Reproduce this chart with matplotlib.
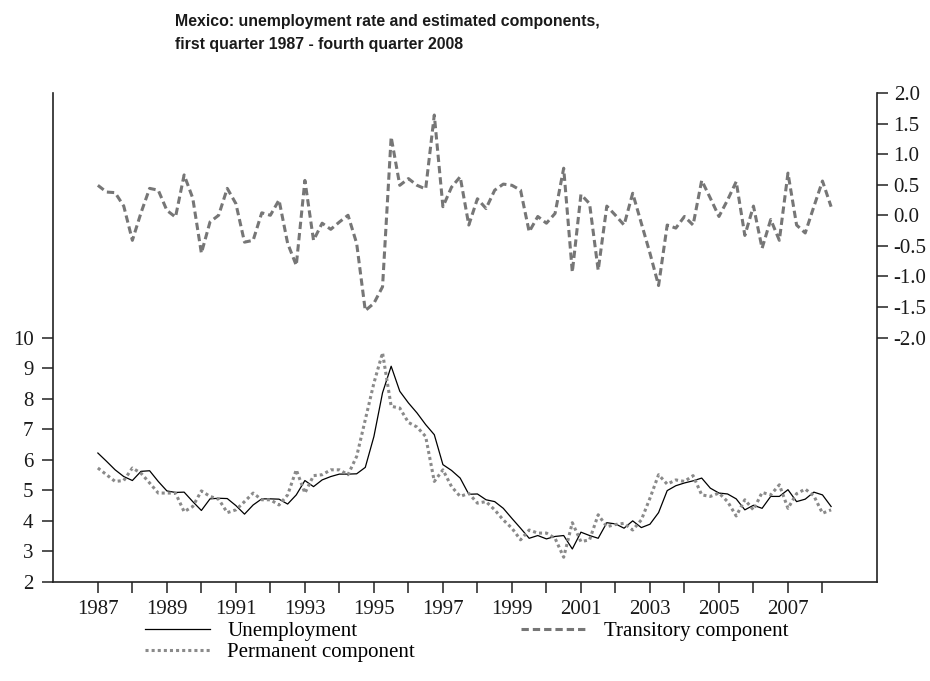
import numpy as np
import matplotlib
matplotlib.use("Agg")
import matplotlib.pyplot as plt
from matplotlib.ticker import FixedLocator, FormatStrFormatter

plt.rcParams['axes.unicode_minus'] = False

# Quarterly observations, 1987Q1 onwards
start_year = 1987
unemployment = [
    6.22, 5.95, 5.67, 5.45, 5.32, 5.62, 5.64, 5.29, 4.98, 4.93,
    4.94, 4.63, 4.34, 4.72, 4.74, 4.73, 4.50, 4.22, 4.52, 4.72,
    4.72, 4.71, 4.55, 4.85, 5.32, 5.12, 5.34, 5.45, 5.53, 5.53,
    5.54, 5.75, 6.76, 8.19, 9.06, 8.24, 7.86, 7.53, 7.15, 6.82,
    5.84, 5.65, 5.40, 4.87, 4.88, 4.69, 4.63, 4.41, 4.08, 3.76,
    3.43, 3.52, 3.41, 3.49, 3.52, 3.08, 3.63, 3.52, 3.43, 3.94,
    3.90, 3.76, 4.00, 3.78, 3.89, 4.27, 4.99, 5.15, 5.24, 5.31,
    5.40, 5.07, 4.91, 4.88, 4.72, 4.36, 4.51, 4.41, 4.80, 4.80,
    5.02, 4.63, 4.71, 4.94, 4.85, 4.47,
]
permanent = [
    5.73, 5.51, 5.29, 5.32, 5.73, 5.56, 5.24, 4.91, 4.91, 4.91,
    4.30, 4.47, 4.98, 4.80, 4.71, 4.27, 4.36, 4.63, 4.91, 4.69,
    4.69, 4.52, 4.85, 5.67, 4.91, 5.48, 5.51, 5.67, 5.67, 5.51,
    6.11, 7.31, 8.51, 9.50, 7.75, 7.69, 7.22, 7.07, 6.76, 5.29,
    5.67, 5.12, 4.80, 4.90, 4.58, 4.63, 4.36, 4.03, 3.76, 3.38,
    3.70, 3.60, 3.60, 3.43, 2.81, 3.94, 3.32, 3.38, 4.20, 3.81,
    3.88, 3.92, 3.70, 4.03, 4.74, 5.51, 5.20, 5.34, 5.29, 5.48,
    4.85, 4.80, 4.91, 4.63, 4.16, 4.69, 4.36, 4.93, 4.85, 5.18,
    4.41, 4.89, 5.04, 4.82, 4.25, 4.36,
]
transitory = [
    0.49, 0.38, 0.37, 0.15, -0.41, 0.04, 0.44, 0.41, 0.08, -0.03,
    0.66, 0.28, -0.62, -0.11, 0.00, 0.44, 0.19, -0.44, -0.41, 0.04,
    0.00, 0.25, -0.46, -0.82, 0.57, -0.41, -0.13, -0.23, -0.11, 0.00,
    -0.46, -1.56, -1.44, -1.17, 1.28, 0.49, 0.60, 0.49, 0.43, 1.64,
    0.14, 0.46, 0.63, -0.16, 0.27, 0.11, 0.41, 0.51, 0.49, 0.41,
    -0.27, -0.02, -0.13, 0.03, 0.77, -0.93, 0.34, 0.19, -0.90, 0.15,
    0.00, -0.16, 0.36, -0.13, -0.62, -1.15, -0.16, -0.21, -0.02, -0.16,
    0.57, 0.28, -0.02, 0.25, 0.55, -0.33, 0.15, -0.54, -0.07, -0.41,
    0.69, -0.16, -0.29, 0.14, 0.56, 0.14,
]

year_ticks = list(range(1987, 2009))
year_labels = [str(y) if (y - 1987) % 2 == 0 else "" for y in year_ticks]
left_ticks = list(range(2, 11))
right_ticks = [-2.0, -1.5, -1.0, -0.5, 0.0, 0.5, 1.0, 1.5, 2.0]

t = start_year + 0.25 * np.arange(len(unemployment))

serif = "Liberation Serif"
fig = plt.figure(figsize=(9.30, 6.81), dpi=100)
ax = fig.add_axes([0.057, 0.1454, 0.886, 0.718])
ax2 = ax.twinx()

l_unemp, = ax.plot(t, unemployment, color="black", lw=0.9, label="Unemployment")
l_perm, = ax.plot(t, permanent, color="#8a8a8a", lw=2.2, linestyle=(0, (1, 1)),
                  label="Permanent component")
l_trans, = ax2.plot(t, transitory, color="#767676", lw=2.2, linestyle=(0, (2.4, 1.3)),
                    label="Transitory component")

ax.set_xlim(1985.7, 2009.58)
ax.set_ylim(2, 18)
ax2.set_ylim(-6, 2)

ax.xaxis.set_major_locator(FixedLocator(year_ticks))
ax.set_xticklabels(year_labels)
ax.yaxis.set_major_locator(FixedLocator(left_ticks))
ax2.yaxis.set_major_locator(FixedLocator(right_ticks))
ax2.yaxis.set_major_formatter(FormatStrFormatter("%.1f"))

for a in (ax, ax2):
    a.spines["top"].set_visible(False)
    for s in a.spines.values():
        s.set_linewidth(1.2)
        s.set_color("#222222")
ax.spines["right"].set_visible(False)
ax2.spines["left"].set_visible(False)
ax2.spines["bottom"].set_visible(False)

ax.tick_params(axis="both", direction="out", length=8, width=1.1, color="#222222",
               labelsize=15, pad=6)
ax.tick_params(axis="x", pad=5)
ax2.tick_params(axis="y", direction="out", length=8, width=1.1, color="#222222",
                labelsize=15, pad=4)
for lab in ax.get_xticklabels() + ax.get_yticklabels() + ax2.get_yticklabels():
    lab.set_fontfamily(serif)
    lab.set_color("#1a1a1a")

fig.text(0.188, 0.979, "Mexico: unemployment rate and estimated components,\n"
         "first quarter 1987 - fourth quarter 2008",
         ha="left", va="top", fontsize=11.4, fontweight="bold",
         family="Liberation Sans", linespacing=1.6, color="#1a1a1a")

leg = fig.legend(handles=[l_unemp, l_perm, l_trans], ncol=2,
                 loc="upper left", bbox_to_anchor=(0.156, 0.087),
                 frameon=False, prop={"family": serif, "size": 15},
                 handlelength=3.1, handletextpad=0.85, columnspacing=5.1,
                 labelspacing=0.06, borderaxespad=0, borderpad=0)

fig.savefig("out.png", dpi=100)
